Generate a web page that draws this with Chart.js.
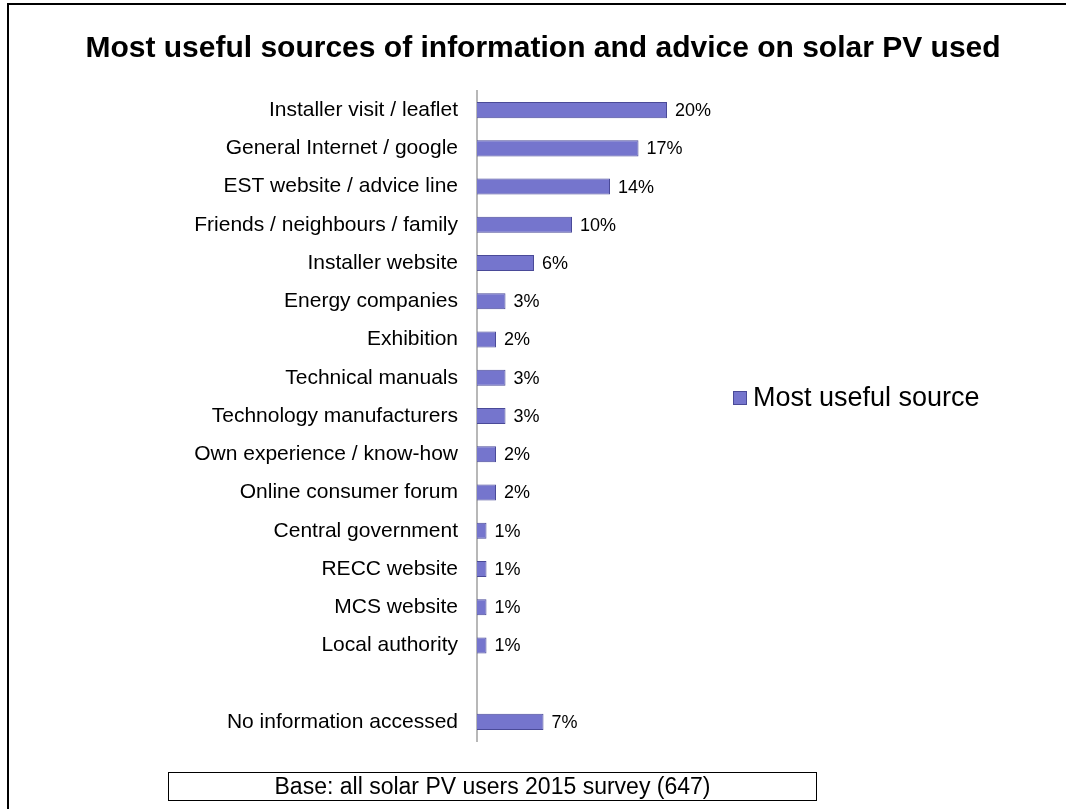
<!DOCTYPE html>
<html lang="en">
<head>
<meta charset="utf-8">
<title>Solar PV information sources</title>
<script src="https://cdn.jsdelivr.net/npm/chart.js@4.4.1/dist/chart.umd.min.js"></script>
<style>
    html, body {
        margin: 0;
        padding: 0;
        background: #fff;
        overflow: hidden;
    }
    #wrap {
        position: relative;
        width: 1066px;
        height: 809px;
    }
    /* 外框（只露出左边和上边） */
    #frame {
        position: absolute;
        left: 7px;
        top: 3px;
        width: 1100px;
        height: 850px;
        border-left: 2px solid #000;
        border-top: 2px solid #000;
    }
    #sourcesChart {
        position: absolute;
        left: 0;
        top: 0;
    }
    #baseNote {
        position: absolute;
        left: 168px;
        top: 772px;
        width: 647px;
        height: 27px;
        border: 1px solid #000;
        font: 23px Arial, "Liberation Sans", sans-serif;
        line-height: 27px;
        text-align: center;
        color: #000;
        white-space: nowrap;
    }
</style>
</head>
<body>
<div id="wrap">
    <div id="frame"></div>
    <canvas id="sourcesChart" width="1066" height="809"></canvas>
    <div id="baseNote">Base: all solar PV users 2015 survey (647)</div>
</div>

<script>
// 图表数据
const chartTitle = 'Most useful sources of information and advice on solar PV used';
const seriesName = 'Most useful source';

const sourceLabels = [
    'Installer visit / leaflet',
    'General Internet / google',
    'EST website / advice line',
    'Friends / neighbours / family',
    'Installer website',
    'Energy companies',
    'Exhibition',
    'Technical manuals',
    'Technology manufacturers',
    'Own experience / know-how',
    'Online consumer forum',
    'Central government',
    'RECC website',
    'MCS website',
    'Local authority',
    '',
    'No information accessed'
];

// 百分比，空行用 null
const sourceValues = [20, 17, 14, 10, 6, 3, 2, 3, 3, 2, 2, 1, 1, 1, 1, null, 7];

const FONT = 'Arial, "Liberation Sans", sans-serif';
const BAR_FILL = '#7575cd';
const BAR_EDGE = '#4a4a98';

// 在柱子右侧写百分比
const valueLabelPlugin = {
    id: 'valueLabels',
    afterDatasetsDraw(chart) {
        const ctx = chart.ctx;
        const meta = chart.getDatasetMeta(0);
        ctx.save();
        ctx.font = '18px ' + FONT;
        ctx.fillStyle = '#000';
        ctx.textAlign = 'left';
        ctx.textBaseline = 'middle';
        meta.data.forEach((bar, i) => {
            const v = sourceValues[i];
            if (v === null) return;
            ctx.fillText(v + '%', bar.x + 8, bar.y + 1);
        });
        ctx.restore();
    }
};

// 右侧图例
const sideLegendPlugin = {
    id: 'sideLegend',
    afterDraw(chart) {
        const ctx = chart.ctx;
        const ds = chart.data.datasets[0];
        const x = 733, y = 398, size = 14;
        ctx.save();
        ctx.fillStyle = ds.backgroundColor;
        ctx.strokeStyle = ds.borderColor;
        ctx.lineWidth = 1;
        ctx.fillRect(x, y - size / 2, size, size);
        ctx.strokeRect(x + 0.5, y - size / 2 + 0.5, size - 1, size - 1);
        ctx.font = '27px ' + FONT;
        ctx.fillStyle = '#000';
        ctx.textAlign = 'left';
        ctx.textBaseline = 'middle';
        ctx.fillText(ds.label, 753, y + 1);
        ctx.restore();
    }
};

function renderSourcesChart() {
    const ctx = document.getElementById('sourcesChart').getContext('2d');

    window.sourcesChart = new Chart(ctx, {
        type: 'bar',
        data: {
            labels: sourceLabels,
            datasets: [{
                label: seriesName,
                data: sourceValues,
                backgroundColor: BAR_FILL,
                borderColor: BAR_EDGE,
                borderWidth: 1,
                barPercentage: 0.42,
                categoryPercentage: 1
            }]
        },
        options: {
            indexAxis: 'y',
            responsive: false,
            animation: false,
            layout: {
                padding: { left: 20, right: 0, top: 0, bottom: 68 }
            },
            scales: {
                x: {
                    display: false,
                    min: 0,
                    max: 62
                },
                y: {
                    grid: { display: false },
                    border: { display: true, color: '#b8b8b8', width: 2 },
                    ticks: {
                        autoSkip: false,
                        padding: 11,
                        color: '#000',
                        font: { family: FONT, size: 21 }
                    },
                    afterFit(axis) {
                        // 让纵轴线落在固定位置
                        axis.width = 457;
                    }
                }
            },
            plugins: {
                legend: { display: false },
                tooltip: { enabled: false },
                title: {
                    display: true,
                    text: chartTitle,
                    color: '#000',
                    font: { family: FONT, size: 30, weight: 'bold' },
                    padding: { top: 31, bottom: 24 }
                }
            }
        },
        plugins: [valueLabelPlugin, sideLegendPlugin]
    });
}

renderSourcesChart();
</script>
</body>
</html>
